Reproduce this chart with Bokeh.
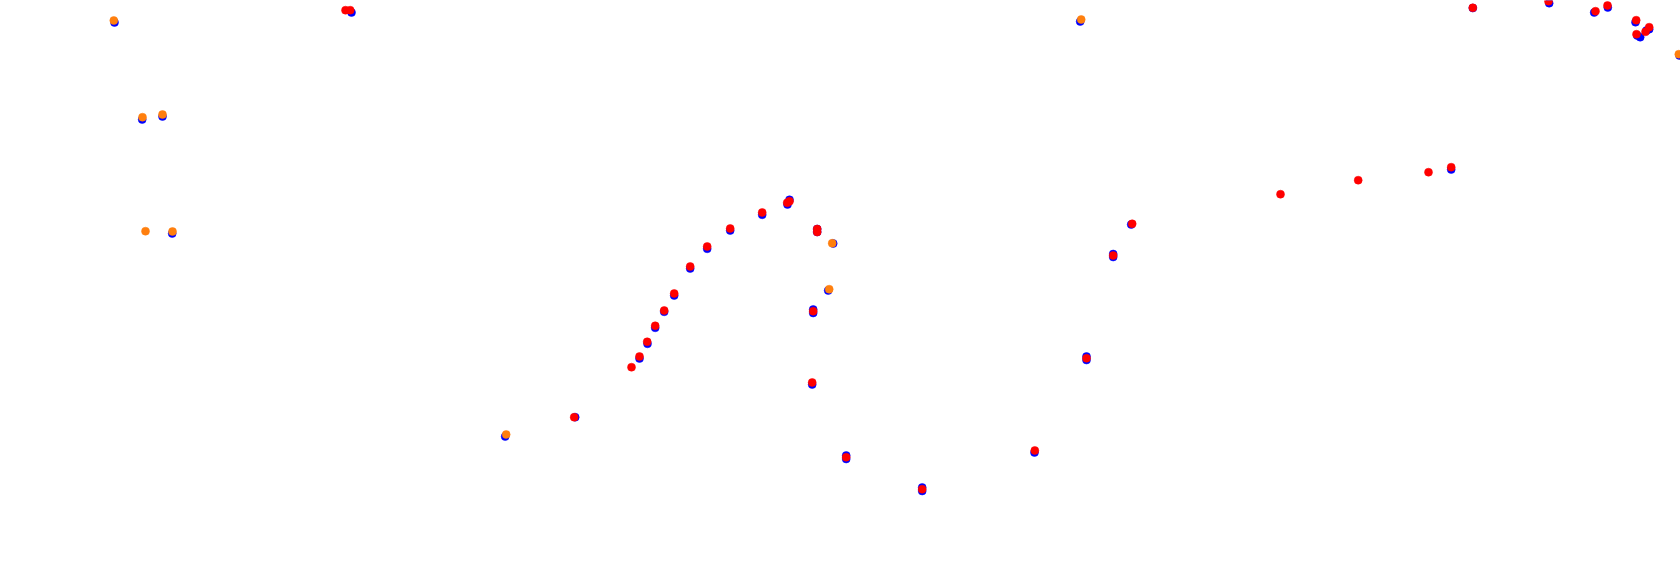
from bokeh.plotting import figure
from bokeh.models import Range1d, ColumnDataSource
from bokeh.embed import file_html
from bokeh.resources import INLINE

# Track positions (x, y), for three series
blue_x = [114, 141.7, 162, 171.7, 351, 504.7, 574.7, 639, 647, 654.7, 663.7, 673.7,
          689.7, 706.7, 729.7, 761.7, 787, 789, 816.7, 816.7, 832.7, 827.7, 812.7,
          812.7, 811.7, 845.7, 845.7, 1079.7, 1130.7, 1112.7, 1112.7, 1086, 1086,
          1034, 921.7, 921.7, 1472.3, 1548.7, 1593.7, 1607.3, 1635, 1636.7, 1639.7,
          1646, 1648.7, 1450.7, 1679]
blue_y = [22, 119, 116, 233, 12, 436, 416.7, 358, 343.3, 327.3, 311.3, 295,
          268, 248.3, 230, 214.3, 204, 199.3, 228.5, 231.5, 243, 290, 309,
          312.5, 384, 455, 458.5, 21, 224, 253.5, 256.5, 356, 359.5,
          452, 487, 490.5, 7.5, 2.7, 12, 7, 21.7, 35, 36.7,
          30, 28.7, 169, 55]

orange_x = [113.3, 142, 162, 145, 172, 505.7, 831.7, 828.7, 1080.7, 1678.3]
orange_y = [20, 116.7, 114, 230.7, 231, 434, 242.7, 288.7, 19, 53.7]

red_x = [345, 349.7, 573.7, 631, 639, 646.7, 654.7, 663.7, 673.7, 689.7, 706.7,
         729.7, 761.7, 786.7, 789, 816.7, 816.7, 812.7, 811.7, 845.7, 1131.7,
         1112.7, 1086, 1034.3, 921.7, 1472.3, 1548, 1595, 1607, 1635.7, 1636,
         1645, 1648.7, 1280, 1357.7, 1428, 1450.7]
red_y = [9.7, 9.7, 416.7, 366.7, 356, 341.3, 325.3, 310, 293, 266, 246,
         228, 212, 202.3, 200.7, 228.5, 231.5, 310.7, 382, 456.7, 223.3,
         255, 357.7, 450, 488.7, 7.3, 0.7, 10.7, 5, 19.7, 33.7,
         31.3, 26.7, 193.7, 179.7, 171.7, 166.7]

p = figure(width=1680, height=577, output_backend="svg", toolbar_location=None,
           x_range=Range1d(0, 1680), y_range=Range1d(577, 0),
           x_axis_location=None, y_axis_location=None, min_border=0)
p.grid.visible = False
p.outline_line_color = None
p.background_fill_color = "white"
p.border_fill_color = "white"

p.scatter(x="x", y="y", source=ColumnDataSource(dict(x=blue_x, y=blue_y)),
          size=8, fill_color="#0000ff", line_color="#0000ff", line_width=0.5)
p.scatter(x="x", y="y", source=ColumnDataSource(dict(x=orange_x, y=orange_y)),
          size=8, fill_color="#ff7f0e", line_color="#ff7f0e", line_width=0.5)
p.scatter(x="x", y="y", source=ColumnDataSource(dict(x=red_x, y=red_y)),
          size=8, fill_color="#ff0000", line_color="#ff0000", line_width=0.5)

open("out.html", "w").write(file_html(p, INLINE))
